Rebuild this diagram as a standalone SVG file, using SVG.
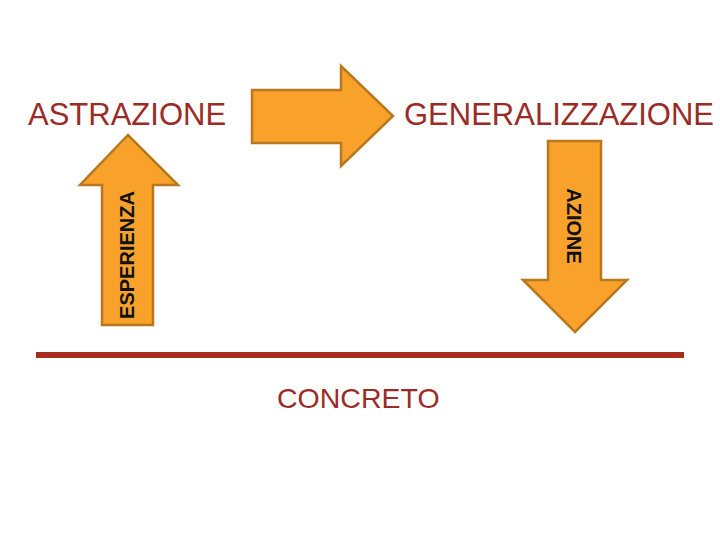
<svg xmlns="http://www.w3.org/2000/svg" width="720" height="540" viewBox="0 0 720 540">
<style>
.arrow{fill:#F9A22B;stroke:#B8781F;stroke-width:2.5;stroke-linejoin:miter}
.lbl{font-family:"Liberation Sans",Arial,sans-serif;fill:#9B2B27}
.alb{font-family:"Liberation Sans",Arial,sans-serif;font-weight:bold;font-size:20px;fill:#111}
</style>
<rect width="720" height="540" fill="#fff"/>
<g id="astrazione"><text class="lbl" x="28" y="125" font-size="31">ASTRAZIONE</text></g>
<g id="generalizzazione"><text class="lbl" x="404" y="125" font-size="31">GENERALIZZAZIONE</text></g>
<g id="concreto">
<rect x="36" y="352" width="648" height="6" fill="#A82C1E"/>
<text class="lbl" x="277" y="408" font-size="28.5">CONCRETO</text>
</g>
<g id="connectors">
<g id="arrow-generalizzazione"><polygon class="arrow" points="252,90 341,90 341,66 393,116 341,166 341,143 252,143"/></g>
<g id="arrow-esperienza">
<polygon class="arrow" points="102,325 102,185 80,185 128,135 178,185 153,185 153,325"/>
<text class="alb" transform="translate(134,255) rotate(-90)" text-anchor="middle">ESPERIENZA</text>
</g>
<g id="arrow-azione">
<polygon class="arrow" points="548,141 601,141 601,280 627,280 575,332 523,280 548,280"/>
<text class="alb" transform="translate(567,226) rotate(90)" text-anchor="middle">AZIONE</text>
</g>
</g>
</svg>
